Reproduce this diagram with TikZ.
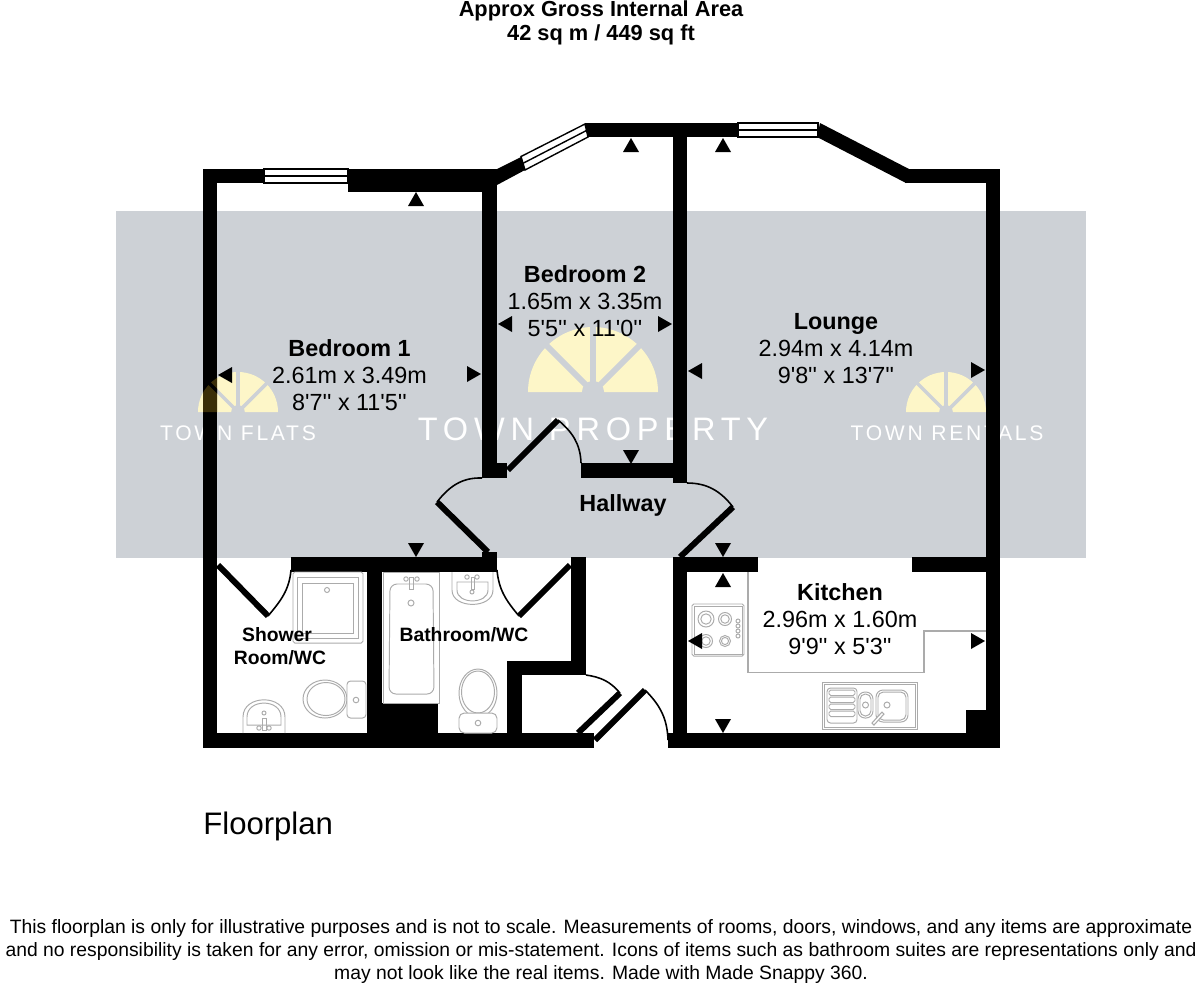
\documentclass[tikz,border=0pt]{standalone}
\usepackage{fontspec}
\setmainfont{Liberation Sans}[Ligatures=TeXOff]
\newfontfamily\markbig[LetterSpace=18]{Liberation Sans}
\newfontfamily\marksmall[LetterSpace=13]{Liberation Sans}
\definecolor{bandgrey}{HTML}{CDD1D6}
\definecolor{sunyellow}{HTML}{FDF6C8}
\definecolor{sundark}{HTML}{3A2E08}
\definecolor{fixgrey}{HTML}{ABABAB}
\tikzset{
  wallfill/.style={fill=black},
  leaf/.style={draw=black,line width=3.4pt},
  swing/.style={draw=black,line width=0.9pt},
  fix/.style={draw=fixgrey,line width=0.55pt},
  roomlabel/.style={align=center,font=\fontsize{13.3}{15.4}\selectfont},
  wclabel/.style={align=center,font=\bfseries\fontsize{11}{13.1}\selectfont},
  notelabel/.style={align=center,font=\fontsize{11}{13.1}\selectfont},
  glasspane/.style={fill=white,draw=black,line width=0.8pt},
}
% centre x, base y, radius, colour of the blades, colour of the gaps
\newcommand{\sunmark}[5]{
  \fill[#4] (#1-#3,#2) arc[start angle=180,end angle=360,radius=#3] -- cycle;
  \foreach \ang in {-45,-90,-135}
    \draw[#5,line width={#3*0.05pt}] (#1,#2) -- ++({\ang}:{#3+1});
  \fill[#5] (#1,#2) circle ({#3*0.17});
  \fill[#5] (#1-#3*0.17,#2) rectangle (#1+#3*0.17,#2+1);
}
\begin{document}
\begin{tikzpicture}[x=0.02cm,y=-0.02cm]
  \fill[white] (0,0) rectangle (1200,992);
  \useasboundingbox (0,0) rectangle (1200,992);
  \fill[bandgrey] (116,211) rectangle (1086,558);

  \sunmark{593}{392}{65}{sunyellow}{bandgrey}
  \sunmark{238}{412}{40}{sunyellow}{bandgrey}
  \sunmark{946}{412}{40}{sunyellow}{bandgrey}
  \node[white,font=\markbig\fontsize{18.5}{20}\selectfont] (markcentre) at (593,429) {TOWN PROPERTY};
  \node[white,font=\marksmall\fontsize{12}{14}\selectfont] (markleft) at (238,433) {TOWN FLATS};
  \node[white,font=\marksmall\fontsize{12}{14}\selectfont] (markright) at (947,433) {TOWN RENTALS};

  % straight runs of wall, as left/top/right/bottom
  \foreach \xa/\ya/\xb/\yb in {203/169/217/748, 203/733/594/748, 203/169/264/183, 348/169/497/192,
      482/169/497/478, 482/463/507/478, 581/463/687/478, 673/123/687/483, 585/123/738/137,
      905/169/1000/183, 986/169/1000/748, 291/557/497/572, 367/557/382/733, 382/703/438/733,
      571/557/586/675, 507/661/586/675, 507/661/522/733, 673/557/758/572, 673/557/687/748,
      912/557/986/572, 668/733/1000/748, 966/710/986/733, 482/552/497/558}
    \fill[wallfill] (\xa,\ya) rectangle (\xb,\yb);
  \fill[wallfill] (497,169) -- (521,157) -- (525,170) -- (497,185) -- cycle;
  \fill[wallfill] (820,123) -- (909,169) -- (906,183) -- (817,137) -- cycle;

  % the left logo shows faintly through the wall
  \begin{scope}
    \clip (203,211) rectangle (217,558);
    \sunmark{238}{412}{40}{sundark}{black}
  \end{scope}

  % windows
  \foreach \xa/\ya/\xb in {264/169/348, 738/123/818} {
    \draw[glasspane] (\xa,\ya) rectangle (\xb,\ya+7);
    \draw[glasspane] (\xa,\ya+7) rectangle (\xb,\ya+14);
  }
  \draw[glasspane] (521,156.5) -- (585,124) -- (588,137) -- (525,170) -- cycle;
  \draw[black,line width=0.8pt] (523,163.3) -- (586.5,130.5);

  % doors
  \draw[leaf] (508,470) -- (558,420);
  \draw[swing] (558,420) to[out=-40,in=92] (581,463);
  \draw[leaf] (488,552) -- (437,502);
  \draw[swing] (437,502) to[out=52,in=178] (482,478);
  \draw[leaf] (680,557) -- (733,507);
  \draw[swing] (733,507) to[out=128,in=0] (687,483);
  \draw[leaf] (218,565) -- (268,616);
  \draw[swing] (268,616) to[out=50,in=-95] (291,570);
  \draw[leaf] (570,565) -- (519,616);
  \draw[swing] (519,616) to[out=130,in=-85] (497,570);
  \draw[leaf] (578,733) -- (620,693);
  \draw[swing] (620,693) to[out=130,in=-8] (586,675);
  \draw[leaf] (595,740) -- (645,690);
  \draw[swing] (645,690) to[out=-45,in=92] (668,740);

  % shower room fittings
  \draw[fix,rounded corners=1pt] (293,572) rectangle (363,643);
  \draw[fix] (297,577) rectangle (358,638);
  \draw[fix] (302,583) rectangle (353,633);
  \draw[fix] (327,590) circle (2.5);
  \draw[fix] (325,699) ellipse (22 and 19);
  \draw[fix] (326,699) ellipse (19 and 16.5);
  \draw[fix,fill=white,rounded corners=2pt] (347,681) rectangle (366,718);
  \draw[fix] (356,700) circle (2.8);
  \draw[fix] (243,733) -- (243,717) to[out=90,in=90,looseness=1.4] (285,717) -- (285,733);
  \draw[fix] (247,725) -- (247,717) to[out=90,in=90,looseness=1.4] (281,717) -- (281,725) -- cycle;
  \draw[fix] (264,713) circle (2);
  \draw[fix] (262,718) rectangle (266,730);
  \draw[fix] (259,728) circle (2.2);
  \draw[fix] (269,728) circle (2.2);

  % bathroom fittings
  \draw[fix] (383,572) rectangle (439,703);
  \draw[fix,rounded corners=4pt] (390,584) -- (433,584) -- (434,694) -- (389,694) -- cycle;
  \draw[fix] (409,577) rectangle (413,589);
  \draw[fix] (406,579) circle (2.2);
  \draw[fix] (417,579) circle (2.2);
  \draw[fix] (411,603) circle (3);
  \draw[fix] (452,572) -- (452,590) to[out=-90,in=-90,looseness=1.2] (493,590) -- (493,572);
  \draw[fix] (457,582) -- (488,582) -- (488,590) to[out=-90,in=-90,looseness=1.2] (457,590) -- cycle;
  \draw[fix] (471,577) rectangle (474,589);
  \draw[fix] (467,577) circle (2.2);
  \draw[fix] (477,577) circle (2.2);
  \draw[fix] (472,592) circle (2);
  \draw[fix] (478,693) ellipse (19 and 24);
  \draw[fix] (478,692) ellipse (16.5 and 21);
  \draw[fix,fill=white,rounded corners=3pt] (459,713) rectangle (497,733);
  \draw[fix] (478,723) circle (2.8);

  % kitchen fittings
  \draw[fix,line width=0.7pt] (748,572) -- (748,672.5) -- (924,672.5) -- (924,631) -- (986,631);
  \draw[fix,rounded corners=1pt] (692,604) rectangle (744,656);
  \draw[fix] (694,606) rectangle (742,654);
  \foreach \xa/\ya/\ra in {706/619/8, 725/619/6.5, 706/641/6.5, 725/641/5.5} {
    \draw[fix] (\xa,\ya) circle (\ra);
    \draw[fix] (\xa,\ya) circle (\ra*0.65);
  }
  \foreach \ya in {621,626,631,636}
    \draw[fix] (738,\ya) circle (2);
  \draw[fix] (822,682) rectangle (917,729);
  \draw[fix] (824,684) rectangle (915,727);
  \draw[fix,rounded corners=2pt] (827,688) rectangle (857,723);
  \foreach \ya in {690,697,704,711}
    \draw[fix,rounded corners=1pt] (829,\ya) rectangle (855,\ya+5.5);
  \draw[fix,rounded corners=4pt] (858,692) rectangle (873,718);
  \draw[fix,rounded corners=3pt] (860,694) rectangle (871,716);
  \draw[fix] (865.5,705) circle (3);
  \draw[fix,rounded corners=4pt] (876,690) rectangle (908,722);
  \draw[fix,rounded corners=3pt] (878,692) rectangle (906,720);
  \draw[fix] (887,705) circle (3);
  \draw[fix,fill=white,line width=0.6pt] (872,723) -- (882,712) -- (884,714) -- (874,725) -- cycle;

  % the small markers against each wall
  \foreach \xa/\ya/\ang in {416/199/0, 225/375/90, 474/374/-90, 416/550/180,
      631/145/0, 505/324/90, 665/324/-90, 631/457/180,
      723/145/0, 695/371/90, 978/370/-90, 723/550/180,
      723/580/0, 695/641/90, 978/641/-90, 723/726/180}
    \fill[black,shift={(\xa,\ya)},rotate=\ang] (-8,7) -- (8,7) -- (0,-7) -- cycle;

  \node[align=center,font=\bfseries\fontsize{12.4}{13.9}\selectfont] (title) at (601,23) {Approx Gross Internal Area\\42 sq m / 449 sq ft};
  \node[roomlabel] (bedone) at (349.5,375) {\textbf{Bedroom 1}\\2.61m x 3.49m\\8'7'' x 11'5''};
  \node[roomlabel] (bedtwo) at (585,301) {\textbf{Bedroom 2}\\1.65m x 3.35m\\5'5'' x 11'0''};
  \node[roomlabel] (lounge) at (836,348.5) {\textbf{Lounge}\\2.94m x 4.14m\\9'8'' x 13'7''};
  \node[roomlabel] (kitchen) at (840,619) {\textbf{Kitchen}\\2.96m x 1.60m\\9'9'' x 5'3''};
  \node[roomlabel] (hallway) at (623,505) {\textbf{Hallway}};
  \node[wclabel] (shower) at (280,646) {Shower\hspace*{3.4pt}\\Room/WC};
  \node[wclabel] (bathroom) at (464,635) {Bathroom/WC};
  \node[anchor=west,font=\fontsize{17.7}{20}\selectfont,inner sep=0pt] (floorplan) at (203,826) {Floorplan};
  \node[notelabel] (disclaimer) at (601,951) {This floorplan is only for illustrative purposes and is not to scale. Measurements of rooms, doors, windows, and any items are approximate\\and no responsibility is taken for any error, omission or mis-statement. Icons of items such as bathroom suites are representations only and\\may not look like the real items. Made with Made Snappy 360.};
\end{tikzpicture}
\end{document}
